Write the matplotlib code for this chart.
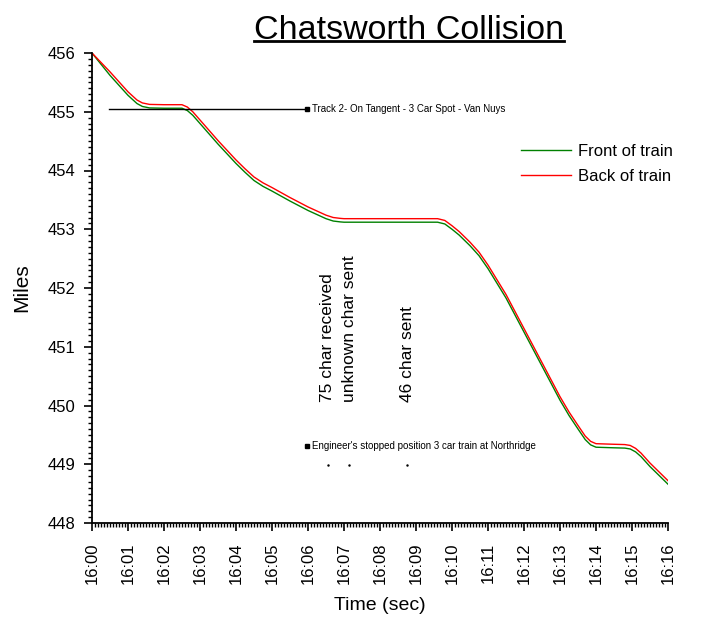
import matplotlib
matplotlib.use("Agg")
import matplotlib.pyplot as plt
from matplotlib.ticker import MultipleLocator, FuncFormatter
from matplotlib.lines import Line2D

plt.rcParams['font.family'] = ['Liberation Sans', 'DejaVu Sans']

# minutes after 16:00
front_t = [0.0, 0.5, 1.0, 1.25, 1.4, 1.6, 2.0, 2.5, 2.65, 2.8, 3.0, 3.5, 4.0, 4.25, 4.5,
           4.75, 5.0, 5.5, 6.0, 6.5, 6.7, 6.9, 7.0, 8.0, 9.0, 9.6, 9.8, 10.0, 10.2, 10.5,
           10.75, 11.0, 11.5, 12.0, 12.5, 13.0, 13.25, 13.5, 13.7, 13.85, 14.0, 14.5, 14.8,
           14.95, 15.1, 15.25, 15.5, 15.75, 16.0]
front_miles = [456.00, 455.62, 455.28, 455.14, 455.09, 455.065, 455.06, 455.06, 455.02, 454.94,
               454.80, 454.45, 454.12, 453.97, 453.83, 453.73, 453.65, 453.48, 453.32, 453.18,
               453.14, 453.125, 453.12, 453.12, 453.12, 453.12, 453.09, 453.00, 452.90, 452.72,
               452.55, 452.33, 451.83, 451.25, 450.67, 450.09, 449.83, 449.60, 449.42, 449.33,
               449.29, 449.28, 449.275, 449.26, 449.21, 449.13, 448.96, 448.81, 448.66]
back_t = front_t
back_miles = [456.00, 455.68, 455.34, 455.20, 455.15, 455.125, 455.12, 455.12, 455.08, 455.00,
              454.86, 454.51, 454.18, 454.03, 453.89, 453.79, 453.71, 453.54, 453.38, 453.24,
              453.20, 453.185, 453.18, 453.18, 453.18, 453.18, 453.15, 453.06, 452.96, 452.78,
              452.61, 452.39, 451.89, 451.31, 450.73, 450.15, 449.89, 449.66, 449.48, 449.39,
              449.35, 449.34, 449.335, 449.32, 449.27, 449.19, 449.02, 448.87, 448.72]

track_line_t = [0.47, 5.97]
track_line_mile = 455.04
track_label = "Track 2- On Tangent - 3 Car Spot - Van Nuys"
stop_t = 5.97
stop_mile = 449.31
stop_label = "Engineer's stopped position 3 car train at Northridge"
event_t = [6.55, 7.14, 8.76]
event_mile = 448.99
event_labels = ["75 char received", "unknown char sent", "46 char sent"]
event_label_mile = 450.06

fig = plt.figure(figsize=(7.02, 6.25), dpi=100)
ax = fig.add_axes([0.131, 0.1632, 0.8206, 0.752])

ax.plot(front_t, front_miles, color='#008000', lw=1.0, label='Front of train')
ax.plot(back_t, back_miles, color='#ff0000', lw=1.0, label='Back of train')

ax.plot(track_line_t, [track_line_mile] * 2, color='black', lw=1.0)
ax.plot([track_line_t[1]], [track_line_mile], 's', color='black', ms=2.5)
ax.text(track_line_t[1] + 0.15, track_line_mile, track_label, fontsize=7, va='center', ha='left')
ax.plot([stop_t], [stop_mile], 's', color='black', ms=2.5)
ax.text(stop_t + 0.15, stop_mile, stop_label, fontsize=7, va='center', ha='left')
ax.plot(event_t, [event_mile] * len(event_t), '.', color='black', ms=1.5)
for t, lab in zip(event_t, event_labels):
    ax.text(t, event_label_mile, lab, rotation=90, fontsize=12.5, ha='center', va='bottom')

ax.set_xlim(0, 16)
ax.set_ylim(448, 456)
ax.xaxis.set_major_locator(MultipleLocator(1))
ax.xaxis.set_minor_locator(MultipleLocator(1 / 12))
ax.yaxis.set_major_locator(MultipleLocator(1))
ax.yaxis.set_minor_locator(MultipleLocator(0.1))
ax.xaxis.set_major_formatter(FuncFormatter(lambda v, p: "16:%02d" % int(round(v))))
ax.yaxis.set_major_formatter(FuncFormatter(lambda v, p: "%d" % int(round(v))))
ax.tick_params(axis='x', labelrotation=90)
ax.tick_params(which='major', direction='out', length=6, width=1.2, labelsize=12, pad=8)
ax.tick_params(which='minor', direction='out', length=3, width=1.0)
ax.tick_params(axis='y', which='major', pad=6)
ax.spines['top'].set_visible(False)
ax.spines['right'].set_visible(False)
ax.spines['left'].set_linewidth(1.3)
ax.spines['bottom'].set_linewidth(1.3)

ax.set_xlabel("Time (sec)", fontsize=14, labelpad=9)
ax.set_ylabel("Miles", fontsize=15, labelpad=12)

ax.legend(loc='upper right', bbox_to_anchor=(1.02, 0.82), frameon=False, fontsize=12,
          handlelength=3.0, handletextpad=0.4, labelspacing=0.6, borderaxespad=0)

title = fig.text(0.583, 0.938, "Chatsworth Collision", fontsize=24.5, ha='center', va='baseline')
fig.canvas.draw()
bb = title.get_window_extent().transformed(fig.transFigure.inverted())
fig.add_artist(Line2D([bb.x0, bb.x1], [0.935, 0.935], color='black', lw=2.0,
                      transform=fig.transFigure))

fig.savefig("out.png", dpi=100)
